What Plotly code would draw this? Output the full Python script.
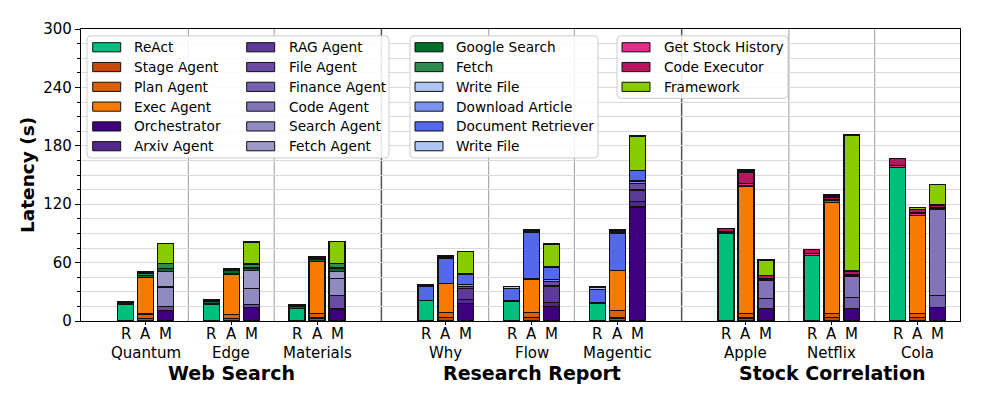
import plotly.graph_objects as go

# ---------------- data ----------------
subgroups = ["Quantum", "Edge", "Materials", "Why", "Flow", "Magentic", "Apple", "Netflix", "Cola"]
groups = ["Web Search", "Research Report", "Stock Correlation"]
methods = ["R", "A", "M"]
y_ticks = [0, 60, 120, 180, 240, 300]

react_R = [17, 17.5, 13, 21, 20.5, 18.5, 90.5, 67.5, 157.5]
stage_A = [2.5, 2.5, 3, 3.5, 3.5, 3, 3, 3.3, 3.5]
plan_A = [4.5, 4.2, 5, 5.5, 5.5, 8, 4.5, 4.5, 4.5]
exec_A = [38, 41.5, 53, 29.3, 34.3, 41, 131, 114, 100.3]
orch_M = [10.5, 13.7, 12.3, 18, 15, 117, 12.7, 12.7, 13.7]
arxiv_M = [0, 0, 0, 4.3, 4.3, 6, 0, 0, 0]
rag_M = [0, 0, 0, 11, 16.7, 11.5, 0, 0, 0]
file_M = [4.5, 3, 14, 2, 4.3, 6.5, 0, 0, 0]
finance_M = [0, 0, 0, 0, 0, 0, 10.3, 11.7, 12.3]
code_M = [0, 0, 0, 0, 0, 0, 18.5, 22, 89]
search_M = [20, 17, 17.3, 0, 0, 0, 0, 0, 0]
fetchagent_M = [15.7, 18, 7, 0, 0, 0, 0, 0, 0]
google_R = [1.5, 2.5, 2.5, 0, 0, 0, 0, 0, 0]
google_A = [2, 3.5, 2.5, 0, 0, 0, 0, 0, 0]
google_M = [3.3, 2.7, 4, 0, 0, 0, 0, 0, 0]
fetch_R = [1.5, 1.5, 1.5, 0, 0, 0, 0, 0, 0]
fetch_A = [1.5, 1, 1.3, 0, 0, 0, 0, 0, 0]
fetch_M = [5, 4, 4.3, 0, 0, 0, 0, 0, 0]
download_M = [0, 0, 0, 2, 2.3, 3, 0, 0, 0]
docret_R = [0, 0, 0, 14.5, 13, 14, 0, 0, 0]
docret_A = [0, 0, 0, 26, 48, 38.3, 0, 0, 0]
docret_M = [0, 0, 0, 11, 12.7, 10.5, 0, 0, 0]
writefile_R = [0, 0, 0, 1.5, 1.8, 2.5, 0, 0, 0]
writefile_A = [0, 0, 0, 1.5, 1.5, 1.5, 0, 0, 0]
stockhist_R = [0, 0, 0, 0, 0, 0, 1.5, 2, 2.5]
stockhist_A = [0, 0, 0, 0, 0, 0, 2.5, 2.5, 2.5]
stockhist_M = [0, 0, 0, 0, 0, 0, 1.5, 1.5, 1.5]
codeexec_R = [0, 0, 0, 0, 0, 0, 3, 4, 7]
codeexec_A = [0, 0, 0, 0, 0, 0, 12, 3, 4]
codeexec_M = [0, 0, 0, 0, 0, 0, 3.5, 3.5, 2.8]
framework_A = [1.8, 1.5, 1.5, 1.2, 1.2, 1.5, 2.2, 2, 2]
framework_M = [20.7, 22.7, 22.7, 23, 24, 35.5, 16, 139.6, 20.7]

# series: (legend name, colour, {method: values}) in stacking order
series = [
    ("ReAct", "#00BF7D", {"R": react_R}),
    ("Stage Agent", "#C44A00", {"A": stage_A}),
    ("Plan Agent", "#DF5F00", {"A": plan_A}),
    ("Exec Agent", "#F97A00", {"A": exec_A}),
    ("Orchestrator", "#3F007D", {"M": orch_M}),
    ("Arxiv Agent", "#54278F", {"M": arxiv_M}),
    ("RAG Agent", "#5E3A98", {"M": rag_M}),
    ("File Agent", "#6A4BA3", {"M": file_M}),
    ("Finance Agent", "#7562AD", {"M": finance_M}),
    ("Code Agent", "#8373B8", {"M": code_M}),
    ("Search Agent", "#908AC2", {"M": search_M}),
    ("Fetch Agent", "#9E9AC8", {"M": fetchagent_M}),
    ("Google Search", "#006D2C", {"R": google_R, "A": google_A, "M": google_M}),
    ("Fetch", "#2B8C4E", {"R": fetch_R, "A": fetch_A, "M": fetch_M}),
    ("Write File", "#AEC6F2", {}),
    ("Download Article", "#7B93EF", {"M": download_M}),
    ("Document Retriever", "#5468EB", {"R": docret_R, "A": docret_A, "M": docret_M}),
    ("Write File ", "#AEC6F2", {"R": writefile_R, "A": writefile_A}),
    ("Get Stock History", "#E7298A", {"R": stockhist_R, "A": stockhist_A, "M": stockhist_M}),
    ("Code Executor", "#B5165E", {"R": codeexec_R, "A": codeexec_A, "M": codeexec_M}),
    ("Framework", "#88CC00", {"A": framework_A, "M": framework_M}),
]

legend_cols = [
    ["ReAct", "Stage Agent", "Plan Agent", "Exec Agent", "Orchestrator", "Arxiv Agent"],
    ["RAG Agent", "File Agent", "Finance Agent", "Code Agent", "Search Agent", "Fetch Agent"],
    ["Google Search", "Fetch", "Write File", "Download Article", "Document Retriever", "Write File "],
    ["Get Stock History", "Code Executor", "Framework"],
]

# ---------------- layout geometry ----------------
sub_x = [0, 1, 2, 3.5, 4.5, 5.5, 7, 8, 9]
group_x = [1, 4.5, 8]
offset = {"R": -0.233, "A": 0.0, "M": 0.233}
bar_w = 0.185

PAGE_PAD = 8  # default body margin of the html page
W, H = 997 - PAGE_PAD, 399 - PAGE_PAD
# plot area in page pixel coordinates
PL, PR, PT, PB = 81, 960, 22, 321


def px(x):
    return (x - PL) / (PR - PL)


def py(y):
    return (PB - y) / (PB - PT)


fig = go.Figure()
colour_of = {}
for name, col, vals in series:
    colour_of[name] = col
    xs, ys = [], []
    for m in methods:
        if m in vals:
            for i, v in enumerate(vals[m]):
                if v > 0:
                    xs.append(sub_x[i] + offset[m])
                    ys.append(v)
    if not xs:
        continue
    fig.add_trace(go.Bar(
        x=xs, y=ys, name=name.strip(), width=bar_w,
        marker=dict(color=col, line=dict(color="#111111", width=1.4)),
        showlegend=False,
    ))

shapes = []
# separators
for xv in [0.5, 1.5, 4, 5, 7.5, 8.5]:
    shapes.append(dict(type="line", xref="x", yref="paper", x0=xv, x1=xv, y0=0, y1=1,
                       line=dict(color="#ABABAB", width=1.2), layer="below"))
for xv in [2.75, 6.25]:
    shapes.append(dict(type="line", xref="x", yref="paper", x0=xv, x1=xv, y0=0, y1=1,
                       line=dict(color="#555555", width=1.5), layer="below"))


def rrect(x0, y0, x1, y1, r=4):
    rx, ry = r / (PR - PL), r / (PB - PT)
    a0, a1 = px(x0), px(x1)
    b0, b1 = py(y1), py(y0)  # bottom, top in paper
    return (f"M{a0+rx},{b0} L{a1-rx},{b0} Q{a1},{b0} {a1},{b0+ry} "
            f"L{a1},{b1-ry} Q{a1},{b1} {a1-rx},{b1} L{a0+rx},{b1} "
            f"Q{a0},{b1} {a0},{b1-ry} L{a0},{b0+ry} Q{a0},{b0} {a0+rx},{b0} Z")


boxes = [(87, 29, 389, 154), (410, 29, 598, 154), (617, 29, 788, 93)]
for b in boxes:
    shapes.append(dict(type="path", xref="paper", yref="paper", path=rrect(*b),
                       fillcolor="rgba(255,255,255,0.85)", line=dict(color="#CCCCCC", width=1),
                       layer="above"))

annotations = []
col_geo = [(92.7, 132), (246.7, 286.7), (415, 454), (622, 662)]
row0, drow = 40.7, 20.26
for ci, names in enumerate(legend_cols):
    rx0, tx = col_geo[ci]
    for ri, nm in enumerate(names):
        yc = row0 + ri * drow
        shapes.append(dict(type="rect", xref="paper", yref="paper",
                           x0=px(rx0), x1=px(rx0 + 28), y0=py(yc + 4.7), y1=py(yc - 4.7),
                           fillcolor=colour_of[nm], line=dict(color="#111111", width=1),
                           layer="above"))
        annotations.append(dict(text=nm.strip(), xref="paper", yref="paper", x=px(tx), y=py(yc),
                                xanchor="left", yanchor="middle", showarrow=False,
                                font=dict(size=13.7, color="black")))

# x labels
for i, sg in enumerate(subgroups):
    for m in methods:
        annotations.append(dict(text=m, xref="x", yref="paper", x=sub_x[i] + offset[m], y=py(334.5),
                                xanchor="center", yanchor="middle", showarrow=False,
                                font=dict(size=15, color="black")))
    annotations.append(dict(text=sg, xref="x", yref="paper", x=sub_x[i], y=py(353.5),
                            xanchor="center", yanchor="middle", showarrow=False,
                            font=dict(size=15, color="black")))
for gx, g in zip(group_x, groups):
    annotations.append(dict(text=f"<b>{g}</b>", xref="x", yref="paper", x=gx, y=py(374),
                            xanchor="center", yanchor="middle", showarrow=False,
                            font=dict(size=19, color="black")))
annotations.append(dict(text="<b>Latency (s)</b>", xref="paper", yref="paper", x=px(27), y=0.5,
                        xanchor="center", yanchor="middle", textangle=-90, showarrow=False,
                        font=dict(size=18.5, color="black")))

fig.update_layout(
    width=W, height=H,
    margin=dict(l=PL - PAGE_PAD, r=W - (PR - PAGE_PAD), t=PT - PAGE_PAD, b=H - (PB - PAGE_PAD)),
    barmode="stack",
    plot_bgcolor="white", paper_bgcolor="white",
    font=dict(family="DejaVu Sans", color="black"),
    shapes=shapes, annotations=annotations,
    showlegend=False,
)
fig.update_xaxes(range=[-0.752, 9.495], tickvals=sub_x, showticklabels=False,
                 ticks="outside", ticklen=3, tickcolor="black",
                 showline=True, mirror=True, linecolor="black", linewidth=1.3,
                 showgrid=False, zeroline=False)
fig.update_yaxes(range=[0, 300], tickvals=y_ticks, ticks="outside", ticklen=5, tickcolor="black",
                 tickfont=dict(size=15, color="black"),
                 showline=True, mirror=True, linecolor="black", linewidth=1.3,
                 showgrid=True, gridcolor="#D9D9D9", gridwidth=1, zeroline=False,
                 minor=dict(dtick=15, ticks="outside", ticklen=3, tickcolor="black",
                            showgrid=True, gridcolor="#D9D9D9", gridwidth=1))

fig.write_html("out.html")
